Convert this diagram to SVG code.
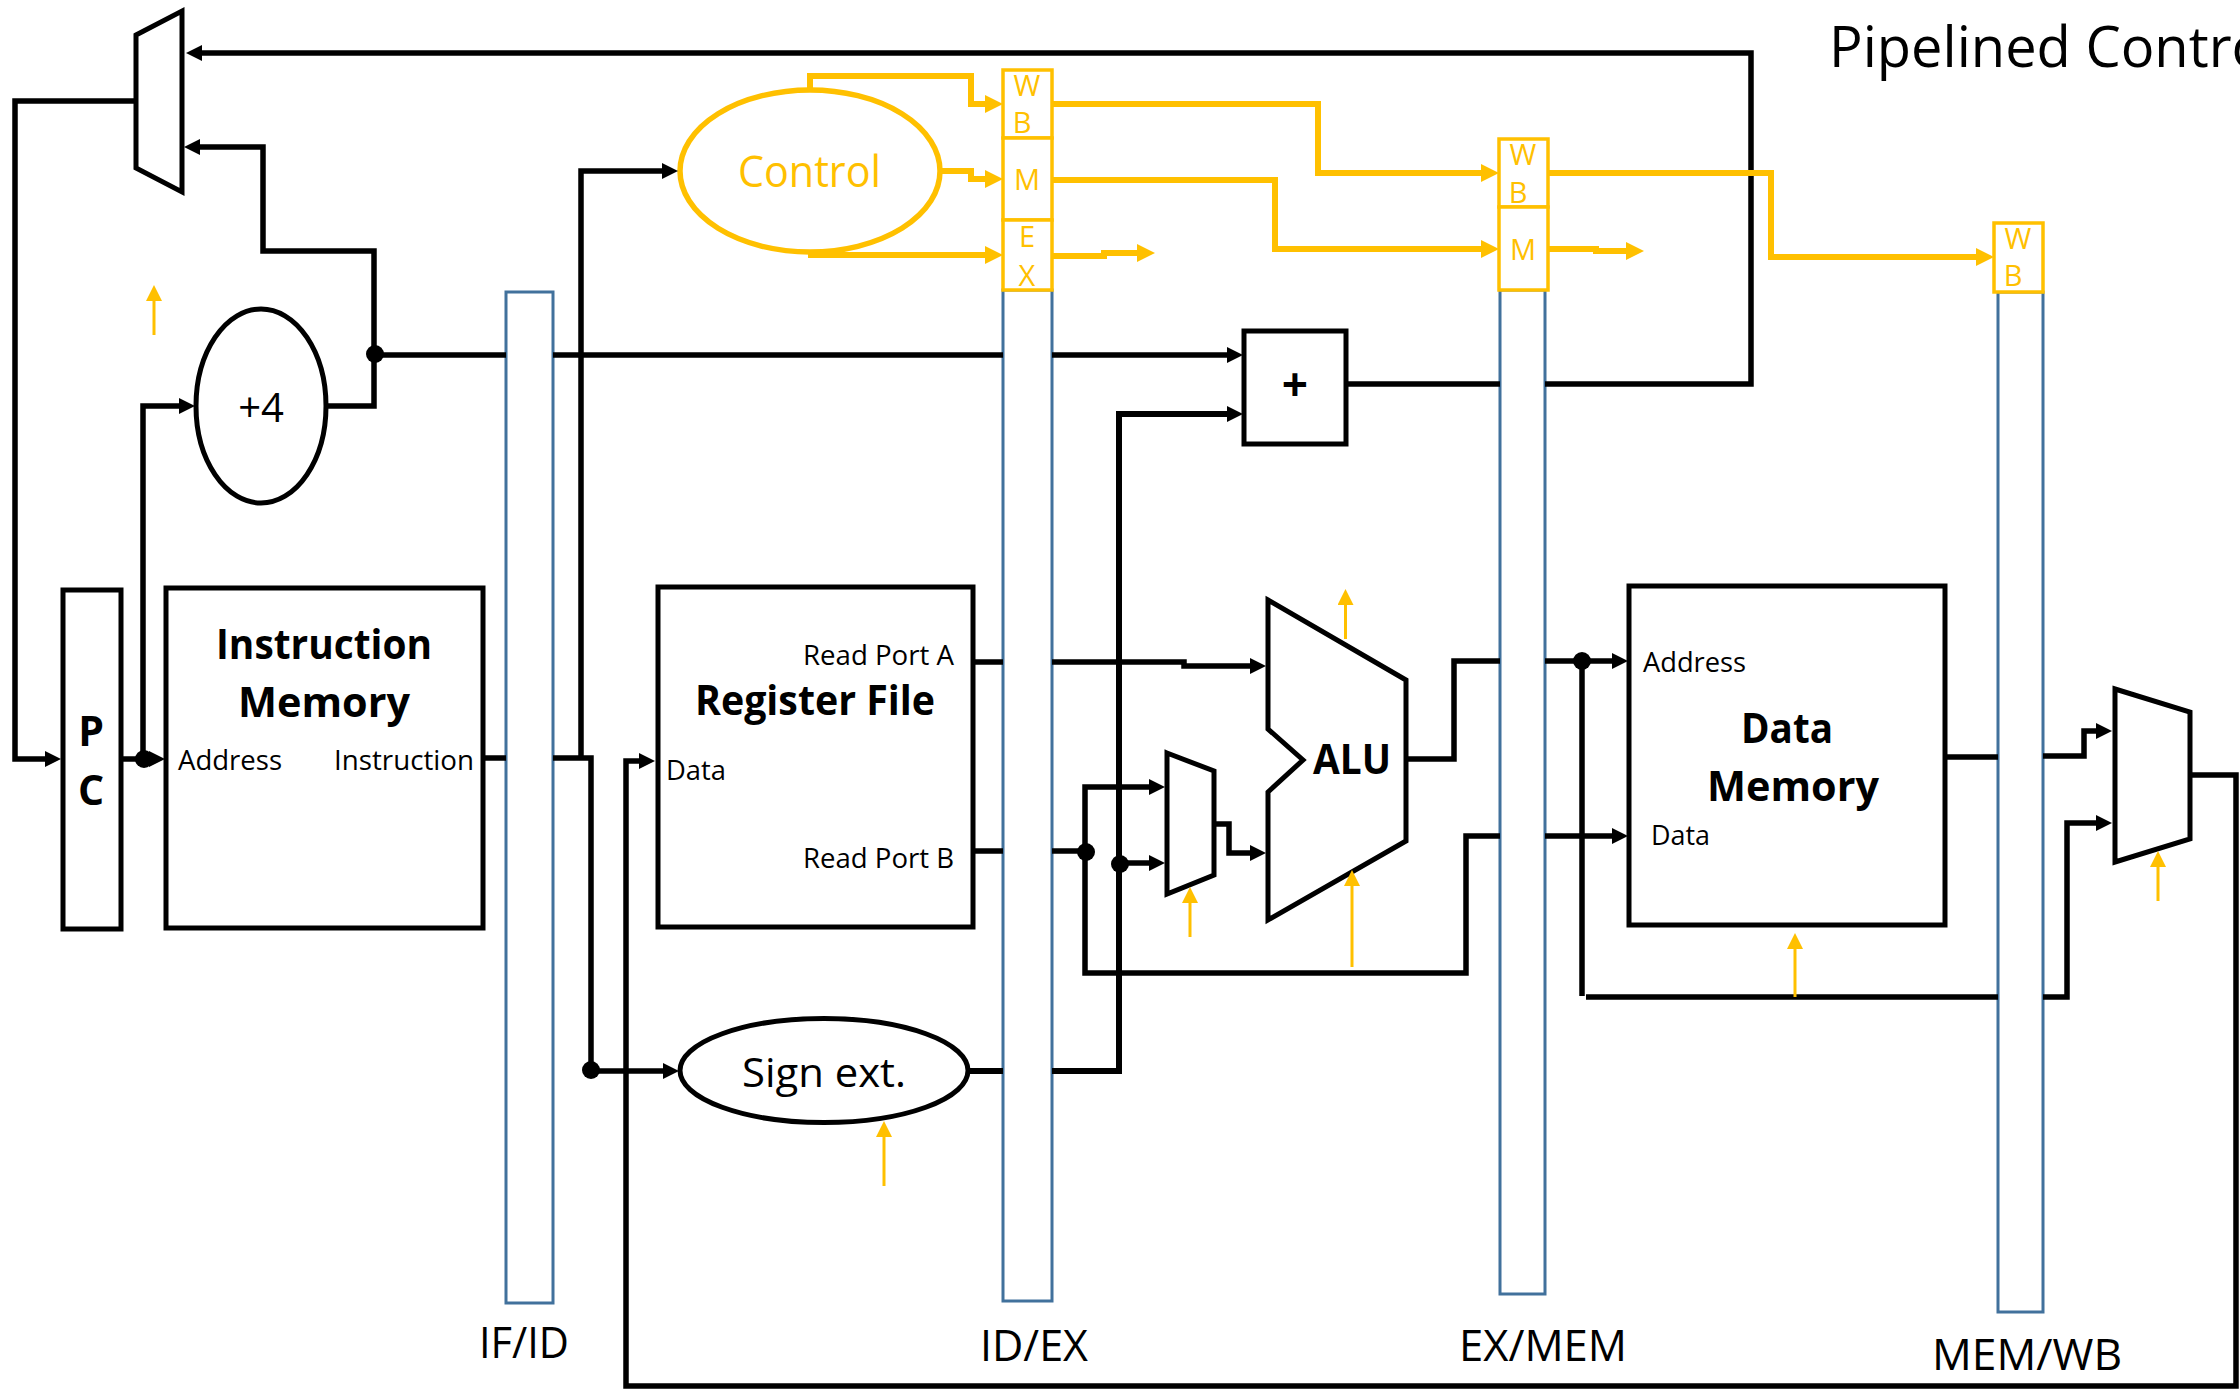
<svg xmlns="http://www.w3.org/2000/svg" width="2240" height="1390" viewBox="0 0 2240 1390">
<style>
text{font-family:"Open Sans","Noto Sans","Liberation Sans",sans-serif;fill:#000}
.n{fill:#fff;stroke:#000;stroke-width:5}
.bar{fill:#fff;stroke:#41719c;stroke-width:3}
.cb{fill:#fff;stroke:#ffc000;stroke-width:3.5}
.ce{fill:#fff;stroke:#ffc000;stroke-width:5.5}
.b{font-weight:700;text-anchor:middle}
.m{text-anchor:middle}
.s{font-size:27px}
.l{font-size:43px}
.o{fill:#ffc000;font-size:29px;text-anchor:middle}
.w{fill:none;stroke:#000;stroke-width:5.5}
.y{fill:none;stroke:#ffc000;stroke-width:6}
.t{fill:none;stroke:#ffc000;stroke-width:3}
.d{fill:#000;stroke:none}
</style>
<defs>
<marker id="ab" markerUnits="userSpaceOnUse" markerWidth="16" markerHeight="16" viewBox="0 0 16 16" refX="8" refY="8" orient="auto"><path d="M0 0L16 8L0 16Z" fill="#000"/></marker>
<marker id="ay" markerUnits="userSpaceOnUse" markerWidth="18" markerHeight="18" viewBox="0 0 18 18" refX="9" refY="9" orient="auto"><path d="M0 0L18 9L0 18Z" fill="#ffc000"/></marker>
<marker id="at" markerUnits="userSpaceOnUse" markerWidth="16" markerHeight="16" viewBox="0 0 16 16" refX="8" refY="8" orient="auto"><path d="M0 0L16 8L0 16Z" fill="#ffc000"/></marker>
</defs>
<rect width="2240" height="1390" fill="#fff"/>
<text id="title" x="1829" y="67" font-size="56">Pipelined Control</text>

<g id="pc-mux"><polygon class="n" points="136,35 182,11 182,192 136,168"/></g>
<g id="adder4"><ellipse class="n" cx="261" cy="406" rx="65" ry="97"/><text class="m" x="261" y="422" font-size="40">+4</text></g>
<g id="pc"><rect class="n" x="63" y="590" width="58" height="339"/><text class="b" x="91" y="746" font-size="41">P</text><text class="b" x="91" y="805" font-size="41">C</text></g>
<g id="instruction-memory"><rect class="n" x="166" y="588" width="317" height="340"/>
<text class="b" x="324" y="659" font-size="41" textLength="216" lengthAdjust="spacingAndGlyphs">Instruction</text>
<text class="b" x="324" y="717" font-size="41" textLength="172" lengthAdjust="spacingAndGlyphs">Memory</text>
<text class="s" x="178" y="770" textLength="104" lengthAdjust="spacingAndGlyphs">Address</text>
<text class="s" x="334" y="770" textLength="140" lengthAdjust="spacingAndGlyphs">Instruction</text></g>
<g id="register-file"><rect class="n" x="658" y="587" width="315" height="340"/>
<text class="b" x="815" y="715" font-size="41" textLength="240" lengthAdjust="spacingAndGlyphs">Register File</text>
<text class="s" x="666" y="780" textLength="60" lengthAdjust="spacingAndGlyphs">Data</text>
<text class="s" x="803" y="665" textLength="151" lengthAdjust="spacingAndGlyphs">Read Port A</text>
<text class="s" x="803" y="868" textLength="151" lengthAdjust="spacingAndGlyphs">Read Port B</text></g>
<g id="control"><ellipse class="ce" cx="810" cy="171" rx="130" ry="81"/><text x="738" y="187" font-size="44" style="fill:#ffc000" textLength="143" lengthAdjust="spacingAndGlyphs">Control</text></g>
<g id="sign-ext"><ellipse class="n" cx="824" cy="1070.500" rx="144" ry="52"/><text x="742" y="1087" font-size="41" textLength="164" lengthAdjust="spacingAndGlyphs">Sign ext.</text></g>
<g id="branch-adder"><rect class="n" x="1244" y="331" width="102" height="113"/><text class="b" x="1295" y="401" font-size="46">+</text></g>
<g id="alu"><polygon class="n" points="1268,600 1406,680 1406,841 1268,920 1268,792 1303,760 1268,729"/><text class="b" x="1352" y="774" font-size="41" textLength="78" lengthAdjust="spacingAndGlyphs">ALU</text></g>
<g id="alu-mux"><polygon class="n" points="1167,753 1214,771 1214,875 1167,894"/></g>
<g id="data-memory"><rect class="n" x="1629" y="586" width="316" height="339"/>
<text class="b" x="1787" y="743" font-size="41" textLength="92" lengthAdjust="spacingAndGlyphs">Data</text>
<text class="b" x="1793" y="801" font-size="41" textLength="172" lengthAdjust="spacingAndGlyphs">Memory</text>
<text class="s" x="1643" y="672" textLength="103" lengthAdjust="spacingAndGlyphs">Address</text>
<text class="s" x="1651" y="845" textLength="59" lengthAdjust="spacingAndGlyphs">Data</text></g>
<g id="wb-mux"><polygon class="n" points="2115,689 2190,712 2190,839 2115,862"/></g>

<g id="if-id"><rect class="bar" x="506" y="292" width="47" height="1011"/><text class="l" x="479" y="1358" textLength="90" lengthAdjust="spacingAndGlyphs">IF/ID</text></g>
<g id="id-ex"><rect class="bar" x="1003" y="290" width="49" height="1011"/>
<rect class="cb" x="1003" y="70" width="49" height="68"/><rect class="cb" x="1003" y="138" width="49" height="82"/><rect class="cb" x="1003" y="220" width="49" height="70"/>
<text class="o" x="1027" y="96">W</text><text class="o" x="1022" y="133">B</text><text class="o" x="1027" y="190">M</text><text class="o" x="1027" y="247">E</text><text class="o" x="1027" y="286">X</text>
<text class="l" x="980" y="1361" textLength="108" lengthAdjust="spacingAndGlyphs">ID/EX</text></g>
<g id="ex-mem"><rect class="bar" x="1500" y="290" width="45" height="1004"/>
<rect class="cb" x="1499" y="139" width="49" height="68"/><rect class="cb" x="1499" y="207" width="49" height="83"/>
<text class="o" x="1523" y="165">W</text><text class="o" x="1518" y="203">B</text><text class="o" x="1523" y="260">M</text>
<text class="l" x="1459" y="1361" textLength="168" lengthAdjust="spacingAndGlyphs">EX/MEM</text></g>
<g id="mem-wb"><rect class="bar" x="1998" y="292" width="45" height="1020"/>
<rect class="cb" x="1994" y="223" width="49" height="69"/>
<text class="o" x="2018" y="249">W</text><text class="o" x="2013" y="286">B</text>
<text class="l" x="1932" y="1370" textLength="190" lengthAdjust="spacingAndGlyphs">MEM/WB</text></g>

<g id="connectors">
<path class="w" d="M1346 384H1500M1545 384H1751V53H194" marker-end="url(#ab)"/>
<path class="w" d="M136 101H15V759H53" marker-end="url(#ab)"/>
<path class="w" d="M121 759H157" marker-end="url(#ab)"/>
<path class="w" d="M143 759V406H187" marker-end="url(#ab)"/>
<path class="w" d="M327 406H374V251H263V147H192" marker-end="url(#ab)"/>
<path class="w" d="M375 355H506M553 355H1003M1052 355H1235" marker-end="url(#ab)"/>
<path class="w" d="M483 758H506M553 758H591V1071H671" marker-end="url(#ab)"/>
<path class="w" d="M581 758V171H670" marker-end="url(#ab)"/>
<path class="w" d="M2190 775H2236V1386H626V761H647" marker-end="url(#ab)"/>
<path class="w" style="stroke-width:6" d="M969 1071H1003M1052 1071H1119V414H1235" marker-end="url(#ab)"/>
<path class="w" d="M973 662H1003M1052 662H1184V666H1258" marker-end="url(#ab)"/>
<path class="w" d="M973 851H1003M1052 851H1086"/>
<path class="w" d="M1085 851V787H1157" marker-end="url(#ab)"/>
<path class="w" d="M1085 851V973H1466V836H1500M1545 836H1620" marker-end="url(#ab)"/>
<path class="w" d="M1120 863H1157" marker-end="url(#ab)"/>
<path class="w" d="M1214 824H1229V853H1258" marker-end="url(#ab)"/>
<path class="w" d="M1406 759H1454V661H1500M1545 661H1620" marker-end="url(#ab)"/>
<path class="w" d="M1582 661V996"/>
<path class="w" d="M1586 997H1998M2043 997H2067V823H2104" marker-end="url(#ab)"/>
<path class="w" d="M1945 757H1998M2043 756H2084V731H2104" marker-end="url(#ab)"/>
<ellipse class="d" cx="375" cy="354" rx="9" ry="9"/>
<ellipse class="d" cx="144" cy="759" rx="9" ry="9"/>
<ellipse class="d" cx="591" cy="1070" rx="9" ry="9"/>
<ellipse class="d" cx="1086" cy="852" rx="9" ry="9"/>
<ellipse class="d" cx="1120" cy="864" rx="9" ry="9"/>
<ellipse class="d" cx="1582" cy="661" rx="9" ry="9"/>
<path class="y" d="M810 90V76H971V104H994" marker-end="url(#ay)"/>
<path class="y" d="M940 171H971V179H994" marker-end="url(#ay)"/>
<path class="y" d="M808 255H994" marker-end="url(#ay)"/>
<path class="y" d="M1052 104H1318V173H1490" marker-end="url(#ay)"/>
<path class="y" d="M1052 180H1275V249H1490" marker-end="url(#ay)"/>
<path class="y" d="M1052 256H1104V253H1146" marker-end="url(#ay)"/>
<path class="y" d="M1548 173H1771V257H1985" marker-end="url(#ay)"/>
<path class="y" d="M1548 249H1596V251H1635" marker-end="url(#ay)"/>
<path class="t" d="M154 335V293" marker-end="url(#at)"/>
<path class="t" d="M884 1186V1129" marker-end="url(#at)"/>
<path class="t" d="M1345.500 639V597" marker-end="url(#at)"/>
<path class="t" d="M1352 967V878" marker-end="url(#at)"/>
<path class="t" d="M1190 937V895" marker-end="url(#at)"/>
<path class="t" d="M1795 997V941" marker-end="url(#at)"/>
<path class="t" d="M2158 901V859" marker-end="url(#at)"/>
</g>
</svg>
